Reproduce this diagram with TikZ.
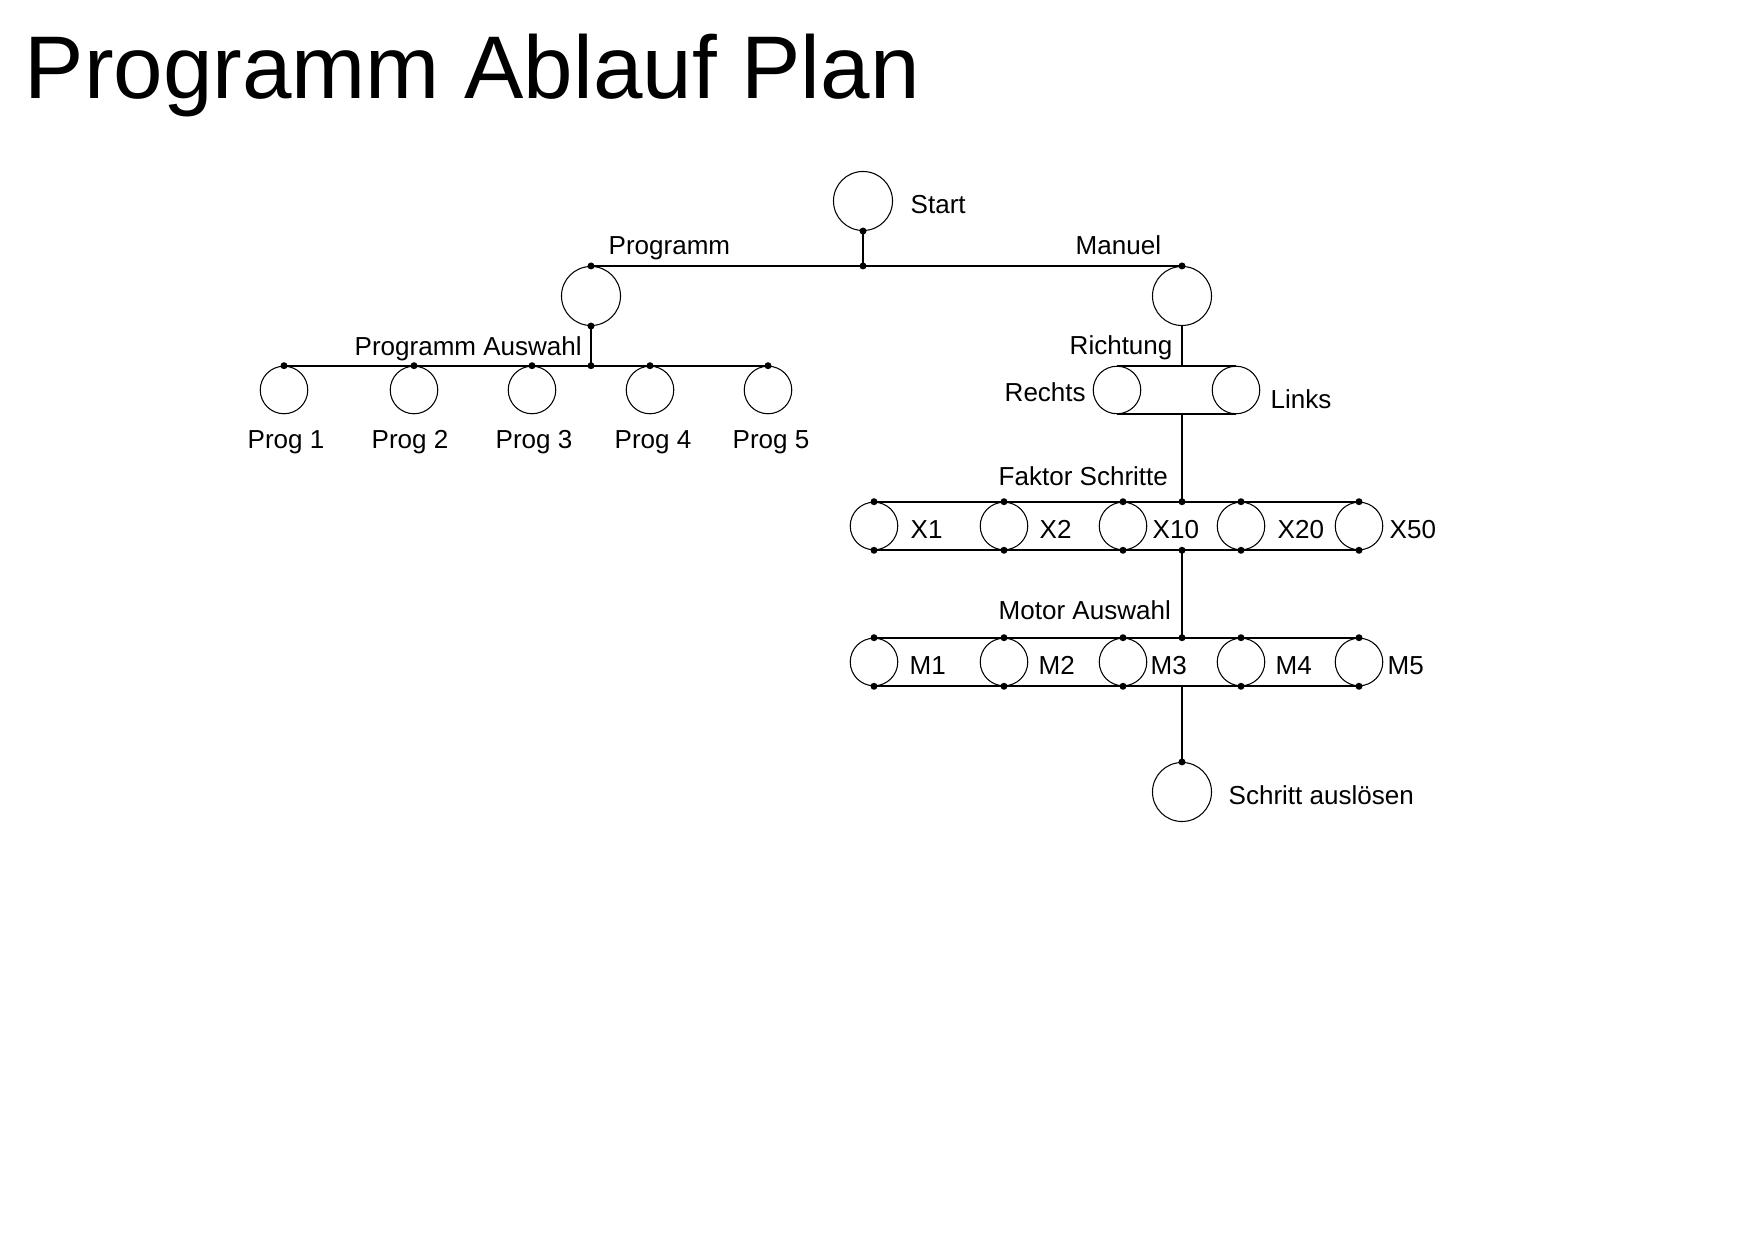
\documentclass[tikz,border=0pt]{standalone}
\usepackage{fontspec}
\setmainfont{Liberation Sans}
\usetikzlibrary{positioning}

\begin{document}
\begin{tikzpicture}[x=0.01cm,y=-0.01cm]
\tikzset{bigstate/.style={circle,draw,line width=0.3pt,minimum size=0.59cm,inner sep=0pt},
smallstate/.style={circle,draw,line width=0.3pt,minimum size=0.475cm,inner sep=0pt},
lbl/.style={inner sep=0pt,anchor=base west,font=\fontsize{7.4pt}{9pt}\selectfont},
wire/.style={line width=0.5pt}}
\useasboundingbox (0,0) rectangle (1754,1240);
\node[inner sep=0pt,anchor=base west,font=\fontsize{25.3pt}{30pt}\selectfont](title) at (24,99){Programm Ablauf Plan};

\node[bigstate](start) at (863,201){};
\node[lbl](startlbl) at (910,214){Start};
\node[bigstate](prg) at (591,296){};
\node[lbl](prglbl) at (608,255){Programm};
\node[bigstate](man) at (1182,296){};
\node[lbl](manlbl) at (1075,255){Manuel};
\node[lbl](auswahllbl) at (354,356){Programm Auswahl};
\foreach \x [count=\i] in {284,414,532,650,768}
  \node[smallstate](prog\i) at (\x,390){};
\foreach \x [count=\i] in {247,371,495,614,732}
  \node[lbl](proglbl\i) at (\x,449){Prog \i};

\node[lbl](richtlbl) at (1069,355){Richtung};
\node[smallstate](re) at (1117,390){};
\node[lbl](relbl) at (1004,402){Rechts};
\node[smallstate](li) at (1236,390){};
\node[lbl](lilbl) at (1270,409){Links};

\node[lbl](faktorlbl) at (998,486){Faktor Schritte};
\foreach \x [count=\i] in {874,1004,1123,1241,1359}
  \node[smallstate](x\i) at (\x,526){};
\foreach \t/\s [count=\i] in {910/X1,1039/X2,1152/X10,1277/X20,1389/X50}
  \node[lbl](xlbl\i) at (\t,539){\s};

\node[lbl](motorlbl) at (998,620){Motor Auswahl};
\foreach \x [count=\i] in {874,1004,1123,1241,1359}
  \node[smallstate](m\i) at (\x,662){};
\foreach \t [count=\i] in {909,1038,1150,1275,1387}
  \node[lbl](mlbl\i) at (\t,675){M\i};

\node[bigstate](schr) at (1182,792){};
\node[lbl](schrlbl) at (1228,805){Schritt auslösen};

% verbindungen
\coordinate (j1) at (start.south |- prg.north);
\coordinate (j2) at (prg.south |- prog1.north);
\coordinate (xtop) at (man.south |- x1.north);
\coordinate (xbot) at (man.south |- x1.south);
\coordinate (mtop) at (man.south |- m1.north);
\coordinate (mbot) at (man.south |- m1.south);
\draw[wire] (start.south) -- (j1);
\draw[wire] (prg.north) -- (man.north);
\draw[wire] (prg.south) -- (j2);
\draw[wire] (prog1.north) -- (prog5.north);
\draw[wire] (man.south) -- (man.south |- re.north);
\draw[wire] (re.north) -- (li.north);
\draw[wire] (re.south) -- (li.south);
\draw[wire] (man.south |- re.south) -- (xtop);
\draw[wire] (x1.north) -- (x5.north);
\draw[wire] (x1.south) -- (x5.south);
\draw[wire] (xbot) -- (mtop);
\draw[wire] (m1.north) -- (m5.north);
\draw[wire] (m1.south) -- (m5.south);
\draw[wire] (mbot) -- (schr.north);

% punkte
\foreach \p in {start.south,j1,prg.north,man.north,prg.south,j2,xtop,xbot,mtop,schr.north}
  \fill (\p) circle (0.035cm);
\foreach \i in {1,...,5}{
  \fill (prog\i.north) circle (0.035cm);
  \fill (x\i.north) circle (0.035cm);
  \fill (x\i.south) circle (0.035cm);
  \fill (m\i.north) circle (0.035cm);
  \fill (m\i.south) circle (0.035cm);
}
\end{tikzpicture}
\end{document}
